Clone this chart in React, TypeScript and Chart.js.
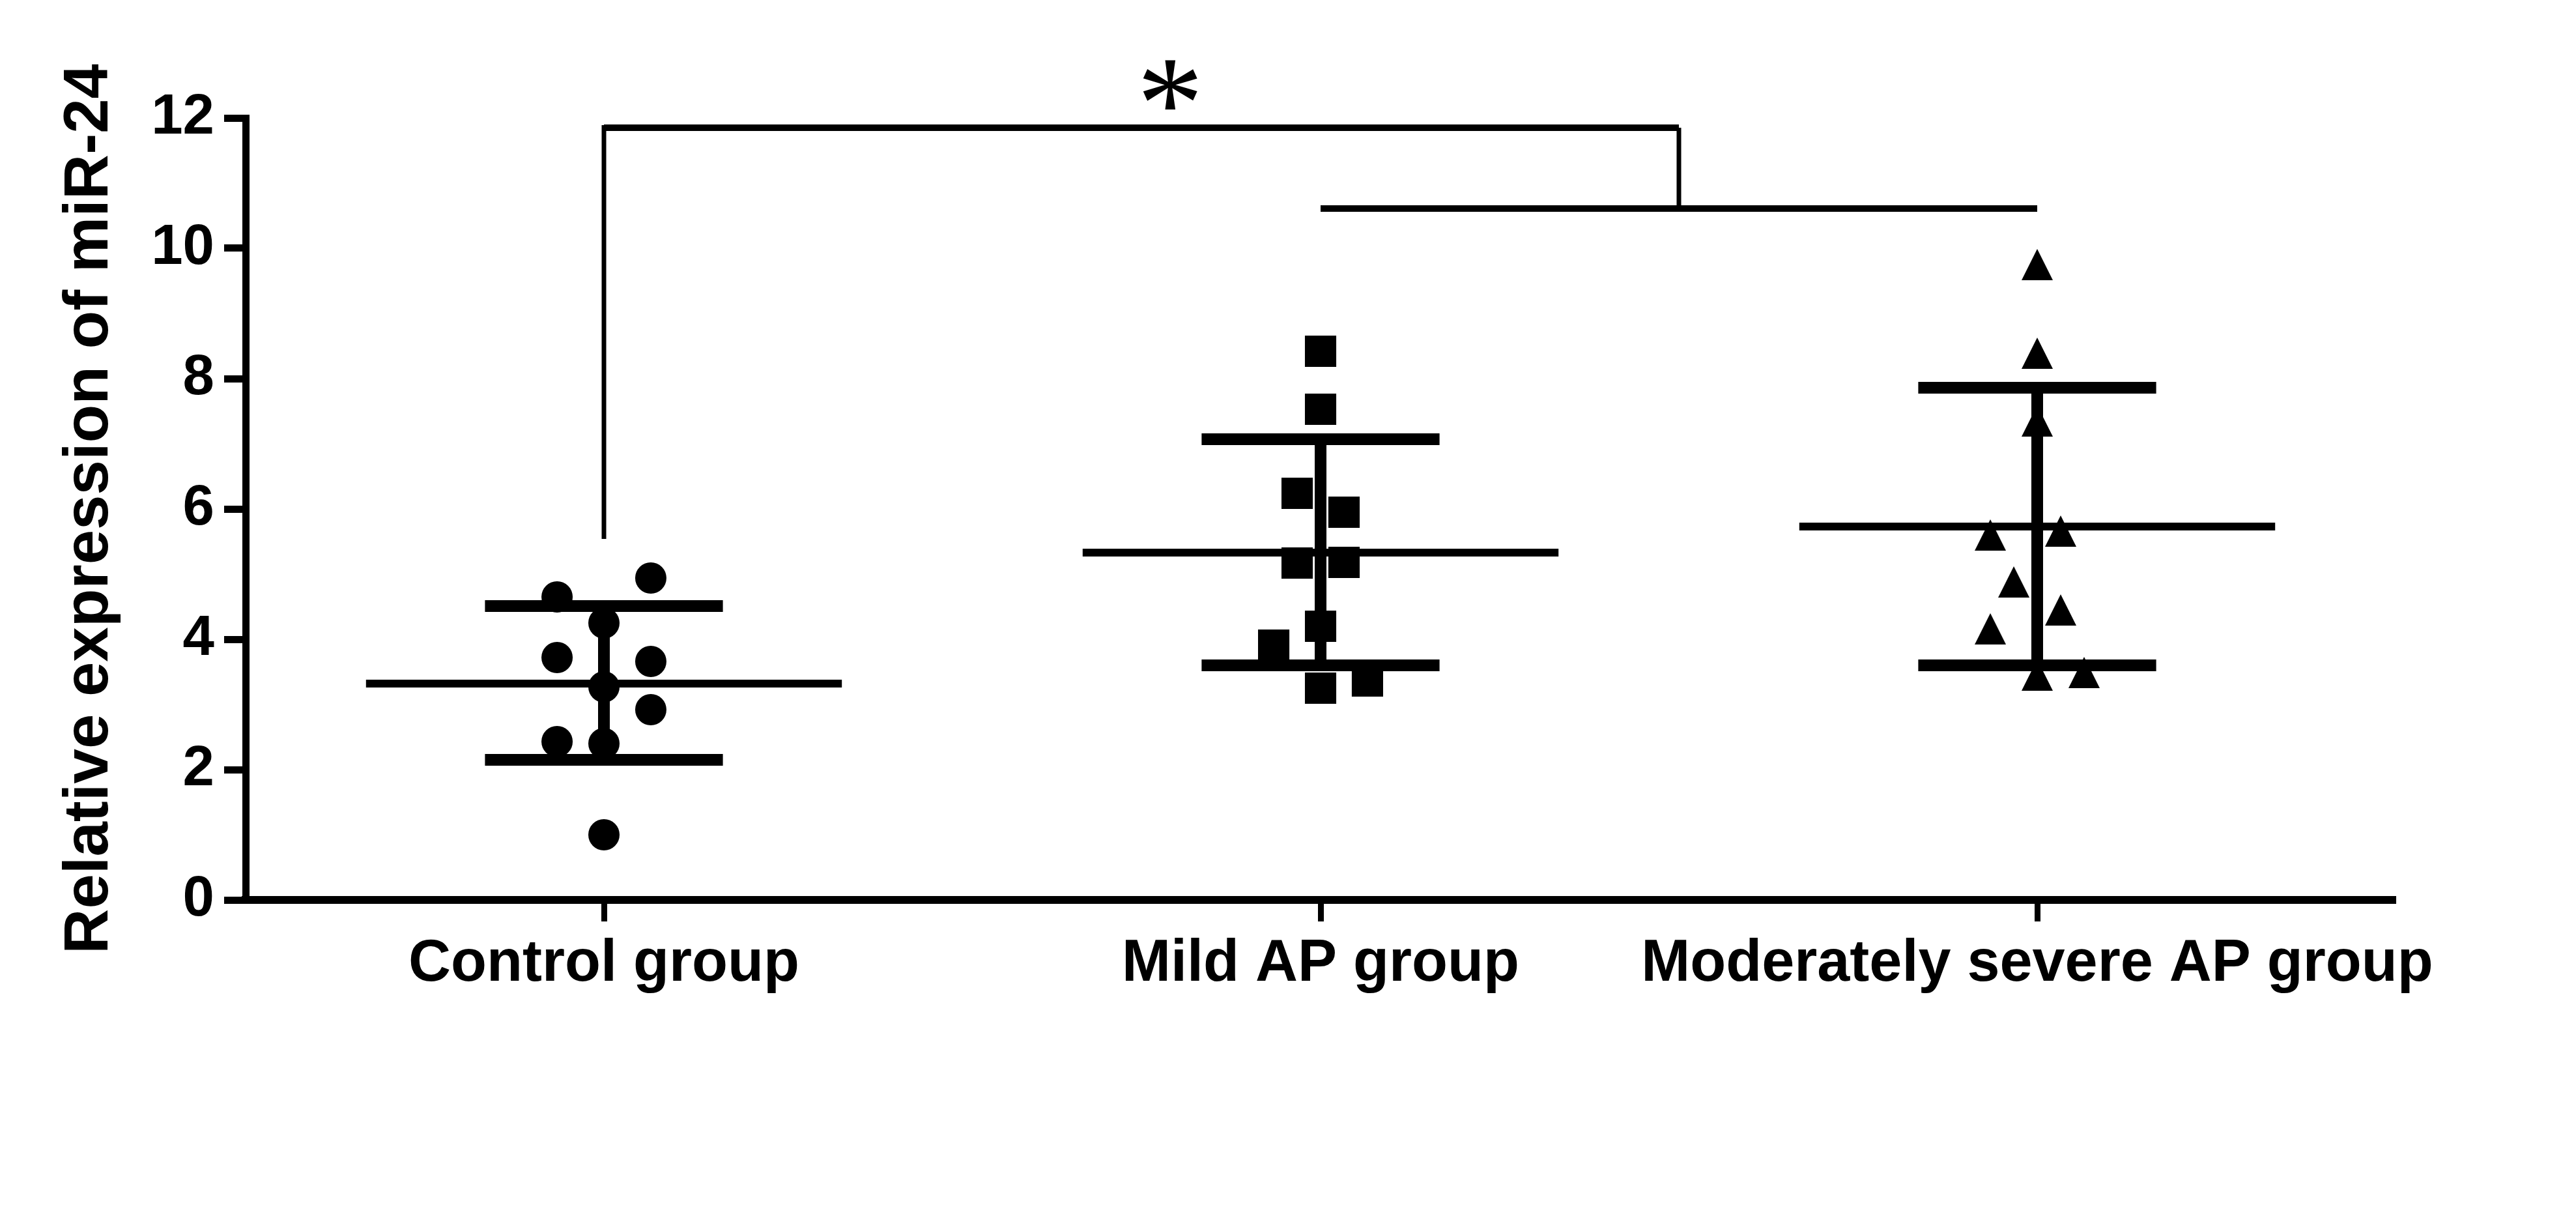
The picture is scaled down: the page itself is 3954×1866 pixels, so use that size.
import React, { useEffect, useRef } from "react";
import { Chart, registerables } from "chart.js";

Chart.register(...registerables);

// ---------- data ----------
const categories = ["Control group", "Mild AP group", "Moderately severe AP group"];

const controlValues = [4.94, 4.65, 4.25, 3.72, 3.66, 3.27, 2.92, 2.43, 2.4, 1.0];
const controlSlots = [2, -2, 0, -2, 2, 0, 2, -2, 0, 0];

const mildValues = [8.42, 7.53, 6.24, 5.95, 5.17, 5.18, 4.2, 3.91, 3.25, 3.36];
const mildSlots = [0, 0, -1, 1, -1, 1, 0, -2, 0, 2];

const moderateValues = [9.75, 8.39, 7.35, 5.6, 5.66, 4.88, 4.45, 4.16, 3.45, 3.49];
const moderateSlots = [0, 0, 0, -2, 1, -1, 1, -2, 0, 2];

const groupMeans = [3.32, 5.33, 5.73];
const groupUpper = [4.51, 7.07, 7.86];
const groupLower = [2.15, 3.6, 3.6];

const yTicks = [0, 2, 4, 6, 8, 10, 12];
const yTitle = "Relative expression of miR-24";

// significance bracket (in data units)
const bracketTopY = 11.85;
const bracketLowY = 10.61;
const bracketLeftBottomY = 5.54;
const bracketLeftX = 0;
const bracketMidX = 1.5;
const bracketLowFromX = 1;
const bracketLowToX = 2;
const sigLabel = "*";
const sigX = 0.79;
const sigY = 12.51;

// ---------- styling constants ----------
const FONT = "'Liberation Sans', Arial, Helvetica, sans-serif";
const STAR_FONT = "'Liberation Serif', 'Times New Roman', serif";
const SLOT_W = 0.0327;
const MEAN_HALF = 0.332;
const CAP_HALF = 0.166;
const BLACK = "#000000";

function makeTriangle(size: number) {
  const c = document.createElement("canvas");
  c.width = size;
  c.height = size;
  const ctx = c.getContext("2d")!;
  ctx.fillStyle = BLACK;
  ctx.beginPath();
  ctx.moveTo(size / 2, 0);
  ctx.lineTo(size, size);
  ctx.lineTo(0, size);
  ctx.closePath();
  ctx.fill();
  return c;
}

function seg(points: { x: number; y: number }[], width: number) {
  return {
    type: "line" as const,
    data: points,
    showLine: true,
    borderColor: BLACK,
    borderWidth: width,
    borderCapStyle: "butt" as const,
    pointRadius: 0,
    fill: false,
    tension: 0,
    clip: false as const,
  };
}

const sigPlugin = {
  id: "sigStar",
  afterDatasetsDraw(chart: any) {
    const { ctx } = chart;
    const x = chart.scales.x;
    const y = chart.scales.y;
    ctx.save();
    ctx.fillStyle = BLACK;
    ctx.font = `100px ${STAR_FONT}`;
    const m0 = ctx.measureText(sigLabel);
    const h0 = m0.actualBoundingBoxAscent + m0.actualBoundingBoxDescent;
    const size = (100 * 76) / (h0 || 50);
    ctx.font = `${size}px ${STAR_FONT}`;
    const m = ctx.measureText(sigLabel);
    const px = x.getPixelForValue(sigX);
    const py = y.getPixelForValue(sigY);
    ctx.textAlign = "center";
    ctx.textBaseline = "alphabetic";
    ctx.fillText(sigLabel, px, py + (m.actualBoundingBoxAscent - m.actualBoundingBoxDescent) / 2);
    ctx.restore();
  },
};

export default function App() {
  const ref = useRef<HTMLCanvasElement | null>(null);

  useEffect(() => {
    if (!ref.current) return;
    const tri = makeTriangle(48);

    const pointSet = (vals: number[], slots: number[], gi: number, style: any, radius: number) => ({
      type: "scatter" as const,
      data: vals.map((v, k) => ({ x: gi + slots[k] * SLOT_W, y: v })),
      pointStyle: style,
      pointRadius: radius,
      pointHoverRadius: radius,
      backgroundColor: BLACK,
      borderColor: BLACK,
      borderWidth: 0,
      showLine: false,
      clip: false as const,
    });

    const datasets: any[] = [];
    groupMeans.forEach((m, i) => {
      datasets.push(seg([{ x: i - MEAN_HALF, y: m }, { x: i + MEAN_HALF, y: m }], 12));
      datasets.push(seg([{ x: i - CAP_HALF, y: groupUpper[i] }, { x: i + CAP_HALF, y: groupUpper[i] }], 18));
      datasets.push(seg([{ x: i - CAP_HALF, y: groupLower[i] }, { x: i + CAP_HALF, y: groupLower[i] }], 18));
      datasets.push(seg([{ x: i, y: groupUpper[i] }, { x: i, y: groupLower[i] }], 18));
    });
    datasets.push(pointSet(controlValues, controlSlots, 0, "circle", 24));
    datasets.push(pointSet(mildValues, mildSlots, 1, "rect", 34));
    datasets.push(pointSet(moderateValues, moderateSlots, 2, tri, 24));

    // significance bracket
    datasets.push(seg([{ x: bracketLeftX, y: bracketTopY }, { x: bracketMidX, y: bracketTopY }], 10));
    datasets.push(seg([{ x: bracketLeftX, y: bracketTopY + 0.04 }, { x: bracketLeftX, y: bracketLeftBottomY }], 7));
    datasets.push(seg([{ x: bracketMidX, y: bracketTopY }, { x: bracketMidX, y: bracketLowY }], 7));
    datasets.push(seg([{ x: bracketLowFromX, y: bracketLowY }, { x: bracketLowToX, y: bracketLowY }], 10));

    const chart = new Chart(ref.current, {
      type: "scatter",
      data: { datasets },
      plugins: [
        {
          id: "whiteBg",
          beforeDraw(c: any) {
            const ctx = c.ctx;
            ctx.save();
            ctx.fillStyle = "#ffffff";
            ctx.fillRect(0, 0, c.width, c.height);
            ctx.restore();
          },
        },
        sigPlugin,
      ],
      options: {
        responsive: false,
        animation: false,
        devicePixelRatio: 1,
        layout: { padding: { left: 0, top: 181, right: 277, bottom: 285 } },
        plugins: { legend: { display: false }, tooltip: { enabled: false } },
        scales: {
          x: {
            type: "linear",
            min: -0.5,
            max: 2.5,
            afterFit: (s: any) => {
              s.height = 200;
            },
            afterBuildTicks: (s: any) => {
              s.ticks = categories.map((_, i) => ({ value: i }));
            },
            border: { display: true, color: BLACK, width: 12 },
            grid: {
              display: true,
              drawOnChartArea: false,
              drawTicks: true,
              tickLength: 33,
              tickWidth: 9,
              tickColor: BLACK,
              color: BLACK,
            },
            ticks: {
              autoSkip: false,
              maxRotation: 0,
              minRotation: 0,
              padding: 12,
              color: BLACK,
              font: { family: FONT, size: 90, weight: "bold" },
              callback: (v: any) => categories[Math.round(Number(v))] ?? "",
            },
          },
          y: {
            type: "linear",
            min: 0,
            max: 12,
            afterFit: (s: any) => {
              s.width = 377;
            },
            afterBuildTicks: (s: any) => {
              s.ticks = yTicks.map((v) => ({ value: v }));
            },
            border: { display: true, color: BLACK, width: 11 },
            grid: {
              display: true,
              drawOnChartArea: false,
              drawTicks: true,
              tickLength: 33,
              tickWidth: 11,
              tickColor: BLACK,
              color: BLACK,
            },
            ticks: {
              padding: 15,
              color: BLACK,
              font: { family: FONT, size: 87, weight: "bold" },
              callback: (v: any) => String(v),
            },
            title: {
              display: true,
              text: yTitle,
              color: BLACK,
              font: { family: FONT, size: 96, weight: "bold" },
              padding: { top: 81, bottom: 0 },
            },
          },
        },
      } as any,
    });
    return () => chart.destroy();
  }, []);

  return (
    <div style={{ position: "fixed", left: 0, top: 0, width: 3954, height: 1866, background: "#fff" }}>
      <canvas ref={ref} width={3954} height={1866} style={{ display: "block", width: 3954, height: 1866 }} />
    </div>
  );
}
